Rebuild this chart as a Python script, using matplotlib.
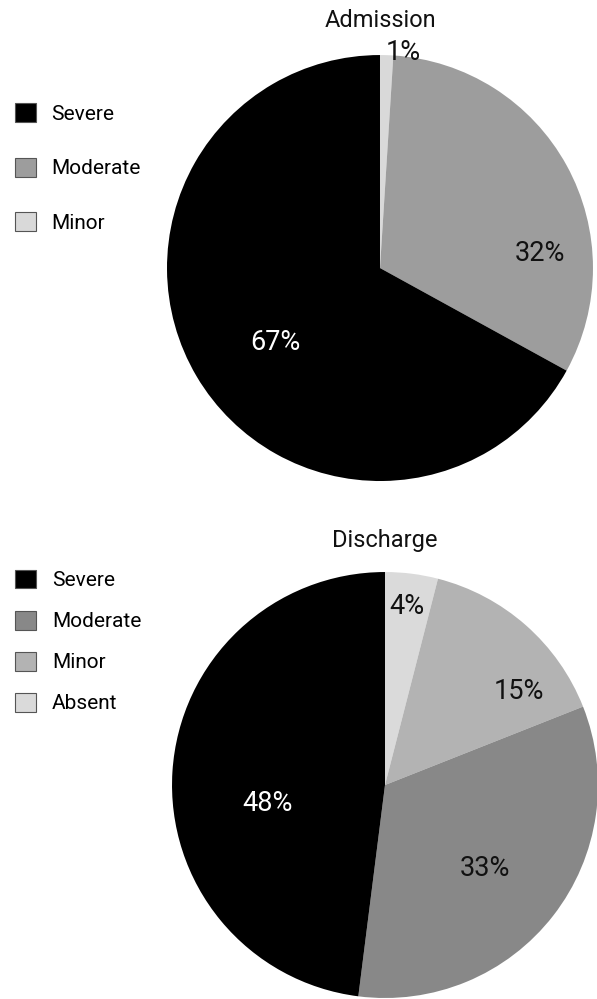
import matplotlib
matplotlib.use('Agg')
import matplotlib.pyplot as plt
from matplotlib.patches import Patch

plt.rcParams['font.family'] = ['Roboto', 'DejaVu Sans']

# severity shares at admission and at discharge (percent)
adm_labels = ["Severe", "Moderate", "Minor"]
adm_values = [67, 32, 1]
adm_colors = ["#000000", "#9d9d9d", "#d9d9d9"]

dis_labels = ["Severe", "Moderate", "Minor", "Absent"]
dis_values = [48, 33, 15, 4]
dis_colors = ["#000000", "#888888", "#b3b3b3", "#dadada"]

# where each percentage label sits, in pie units (same order as the values)
adm_label_pos = [(-0.49, -0.35), (0.75, 0.066), (0.108, 1.01)]
dis_label_pos = [(-0.55, -0.085), (0.47, -0.39), (0.63, 0.437), (0.103, 0.836)]


def dessiner_pie(fig, rect, titre, labels, valeurs, couleurs, positions, titre_y):
    ax = fig.add_axes(rect)
    # slices go clockwise from 12 o'clock, smallest first
    wedges, _ = ax.pie(valeurs[::-1], colors=couleurs[::-1], startangle=90,
                       counterclock=False, radius=1,
                       wedgeprops=dict(linewidth=0))
    ax.set_xlim(-1, 1)
    ax.set_ylim(-1, 1)
    ax.set_aspect('equal')
    ax.axis('off')
    for v, c, (x, y) in zip(valeurs, couleurs, positions):
        couleur_txt = "white" if c == "#000000" else "#111111"
        ax.text(x, y, "%d%%" % v, ha='center', va='center',
                fontsize=19.5, color=couleur_txt)
    ax.text(0.5, titre_y, titre, transform=ax.transAxes, ha='center',
            va='center', fontsize=17, color="#111111")
    return ax


fig = plt.figure(figsize=(5.97, 9.99), dpi=100)

dessiner_pie(fig, [0.2797, 0.5185, 0.7136, 0.4264], "Admission",
             adm_labels, adm_values, adm_colors, adm_label_pos, 1.082)
dessiner_pie(fig, [0.2881, 0.001, 0.7136, 0.4264], "Discharge",
             dis_labels, dis_values, dis_colors, dis_label_pos, 1.075)

handles_adm = [Patch(facecolor=c, edgecolor="#555555", linewidth=0.8) for c in adm_colors]
fig.legend(handles_adm, adm_labels, loc='upper left',
           bbox_to_anchor=(0.012, 0.905), frameon=False, fontsize=15,
           handlelength=1.0, handleheight=1.0, handletextpad=0.7,
           labelspacing=1.64, borderaxespad=0)

handles_dis = [Patch(facecolor=c, edgecolor="#555555", linewidth=0.8) for c in dis_colors]
fig.legend(handles_dis, dis_labels, loc='upper left',
           bbox_to_anchor=(0.012, 0.438), frameon=False, fontsize=15,
           handlelength=1.0, handleheight=1.0, handletextpad=0.75,
           labelspacing=0.99, borderaxespad=0)

fig.savefig("out.png", dpi=100)
